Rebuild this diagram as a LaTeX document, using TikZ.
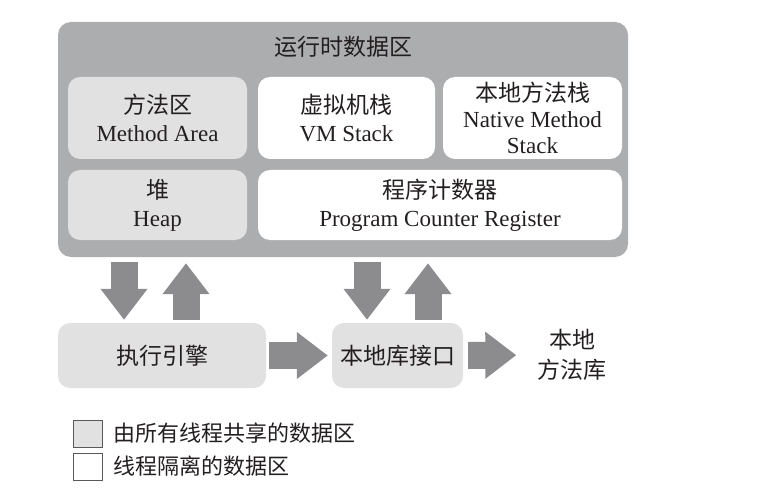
\documentclass[tikz,border=0pt]{standalone}
\usepackage{fontspec}
\setmainfont{Liberation Serif}
\newfontfamily\cjk{Noto Sans CJK SC}
\usetikzlibrary{arrows.meta,positioning}

\definecolor{areagray}{HTML}{ACADAF}
\definecolor{sharedgray}{HTML}{E1E1E2}
\definecolor{arrowgray}{HTML}{8C8C8E}
\definecolor{inkgray}{HTML}{231F20}

\begin{document}
\begin{tikzpicture}[x=1pt, y=-1pt, every node/.style={font=\fontsize{23}{28}\selectfont, text=inkgray, align=center, inner sep=0pt},
	region/.style={fill=areagray, rounded corners=13pt},
	shared/.style={fill=sharedgray, rounded corners=12pt},
	private/.style={fill=white, rounded corners=12pt},
	bigarrow/.style={draw=arrowgray, line width=27pt, -{Triangle[length=31pt, width=45pt]}},
	keybox/.style={draw=black!65, line width=0.8pt, minimum width=29pt, minimum height=27pt}]
	\useasboundingbox (0,0) rectangle (784,497);
	% runtime data area
	\node[region, minimum width=570pt, minimum height=235pt] (rt) at (343,139.5) {};
	\node (title) at (343,47) {\cjk 运行时数据区};
	\node[shared, minimum width=179pt, minimum height=82pt] (ma) at (157.5,118) {{\cjk 方法区}\\Method Area};
	\node[private, minimum width=177pt, minimum height=82pt] (vm) at (346.5,118) {{\cjk 虚拟机栈}\\VM Stack};
	\node[private, minimum width=179pt, minimum height=82pt, font=\fontsize{23}{26}\selectfont] (nms) at (532.5,118) {{\cjk 本地方法栈}\\Native Method\\Stack};
	\node[shared, minimum width=179pt, minimum height=70pt] (heap) at (157.5,205) {{\cjk 堆}\\Heap};
	\node[private, minimum width=364pt, minimum height=70pt] (pc) at (440,205) {{\cjk 程序计数器}\\Program Counter Register};
	% engine and native interface
	\node[shared, minimum width=208pt, minimum height=65pt] (exec) at (162,355.5) {\cjk 执行引擎};
	\node[shared, minimum width=131pt, minimum height=65pt] (jni) at (397.5,355.5) {\cjk 本地库接口};
	\node[font=\fontsize{23}{30}\selectfont] (lib) at (572,355) {\cjk 本地\\\cjk 方法库};
	\draw[bigarrow, shorten <=5pt, shorten >=3pt] (rt.south -| 124,0) -- (exec.north -| 124,0);
	\draw[bigarrow, shorten <=3pt, shorten >=6pt] (exec.north -| 186,0) -- (rt.south -| 186,0);
	\draw[bigarrow, shorten <=5pt, shorten >=3pt] (rt.south -| 367,0) -- (jni.north -| 367,0);
	\draw[bigarrow, shorten <=3pt, shorten >=6pt] (jni.north -| 428,0) -- (rt.south -| 428,0);
	\draw[bigarrow, shorten <=3pt, shorten >=4pt] (exec) -- (jni);
	\draw[bigarrow, shorten <=5pt, shorten >=21pt] (jni) -- (lib);
	% legend
	\node[keybox, fill=sharedgray] (k1) at (87.5,433.5) {};
	\node[keybox, fill=white] (k2) at (87.5,466.5) {};
	\node[right=11pt of k1, font=\fontsize{22}{26}\selectfont] (t1) {\cjk 由所有线程共享的数据区};
	\node[right=11pt of k2, font=\fontsize{22}{26}\selectfont] (t2) {\cjk 线程隔离的数据区};
\end{tikzpicture}
\end{document}
